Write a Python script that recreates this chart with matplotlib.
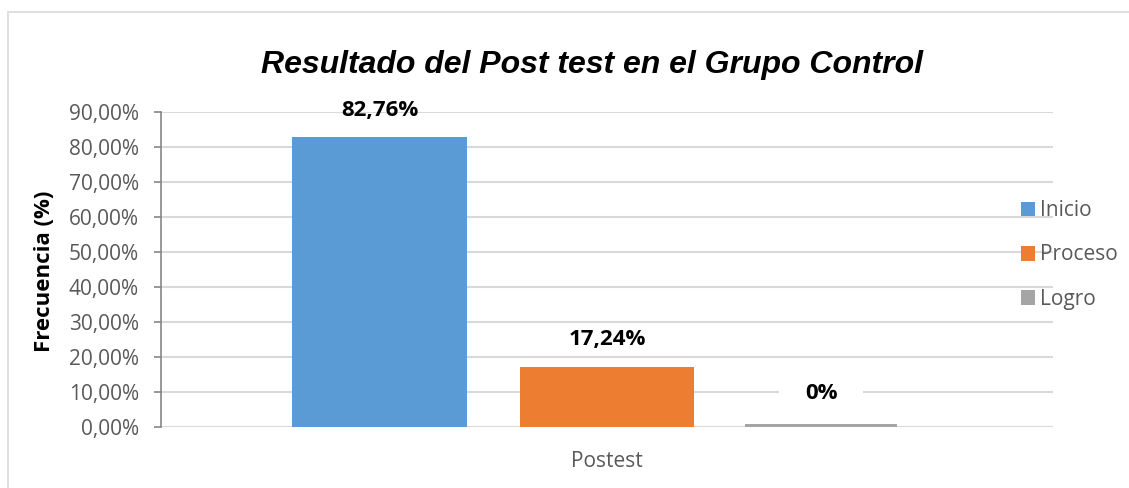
import matplotlib
matplotlib.use("Agg")
import matplotlib.pyplot as plt
from matplotlib.patches import Rectangle

categories = ["Postest"]
series = ["Inicio", "Proceso", "Logro"]
values = [82.76, 17.24, 0.9]
value_labels = ["82,76%", "17,24%", "0%"]
colors = ["#5b9bd5", "#ed7d31", "#a5a5a5"]
yticks = [0, 10, 20, 30, 40, 50, 60, 70, 80, 90]
ytick_labels = ["0,00%", "10,00%", "20,00%", "30,00%", "40,00%", "50,00%",
                "60,00%", "70,00%", "80,00%", "90,00%"]

W, H = 1129, 488
fig = plt.figure(figsize=(W / 100, H / 100), dpi=100)
ax = fig.add_axes([161 / W, 61 / H, 892 / W, 315 / H])

# chart frame
fig.patches.append(Rectangle((8 / W, -0.05), 1.2, (H - 12) / H + 0.05,
                             transform=fig.transFigure, fill=False,
                             edgecolor="#d9d9d9", linewidth=1.2))

offsets = [-0.255, 0.0, 0.24]
widths = [0.196, 0.196, 0.170]
bars = []
for name, v, c, off, w in zip(series, values, colors, offsets, widths):
    b = ax.bar(off, v, width=w, color=c, label=name, zorder=3)
    bars.append(b[0])

# data labels
label_y = [values[0] + 7.7, values[1] + 7.7, 9.7]
for b, lab, ly in zip(bars, value_labels, label_y):
    cx = b.get_x() + b.get_width() / 2
    ax.text(cx, ly, lab, ha="center", va="center",
            fontsize=16, fontweight="bold", family="Open Sans", color="black",
            zorder=4)
    if lab == "0%":
        # white label background interrupting the gridline
        ax.hlines(10, cx - 0.047, cx + 0.047, color="white", linewidth=3, zorder=1)

ax.set_xlim(-0.5, 0.5)
ax.set_ylim(0, 90)
ax.set_yticks(yticks)
ax.set_yticklabels(ytick_labels, family="Open Sans", fontsize=15, color="#595959")
ax.set_xticks([0])
ax.set_xticklabels(categories, family="Open Sans", fontsize=15, color="#595959")
ax.tick_params(axis="x", length=0, pad=17)
ax.tick_params(axis="y", length=5, color="#868686", width=1.2, pad=11)
ax.grid(axis="y", color="#d9d9d9", linewidth=1.5, zorder=0)
ax.set_axisbelow(True)
for s in ["top", "right", "bottom"]:
    ax.spines[s].set_visible(False)
ax.spines["left"].set_color("#868686")
ax.spines["left"].set_linewidth(1.2)

fig.text(45 / W, 1 - 271 / H, "Frecuencia (%)", rotation=90, ha="center", va="center",
         family="Open Sans", fontsize=16, fontweight="bold")

fig.text(592 / W, 1 - 65 / H, "Resultado del Post test en el Grupo Control",
         ha="center", va="center", fontsize=23, fontweight="bold",
         style="italic", family="Liberation Sans")

leg = ax.legend(loc="center left", bbox_to_anchor=(1002 / W, 1 - 255 / H),
                bbox_transform=fig.transFigure, frameon=False,
                prop={"family": "Open Sans", "size": 15},
                handlelength=0.7, handleheight=0.7, handletextpad=0.2,
                labelspacing=1.12, labelcolor="#595959")

fig.savefig("out.png", dpi=100)
